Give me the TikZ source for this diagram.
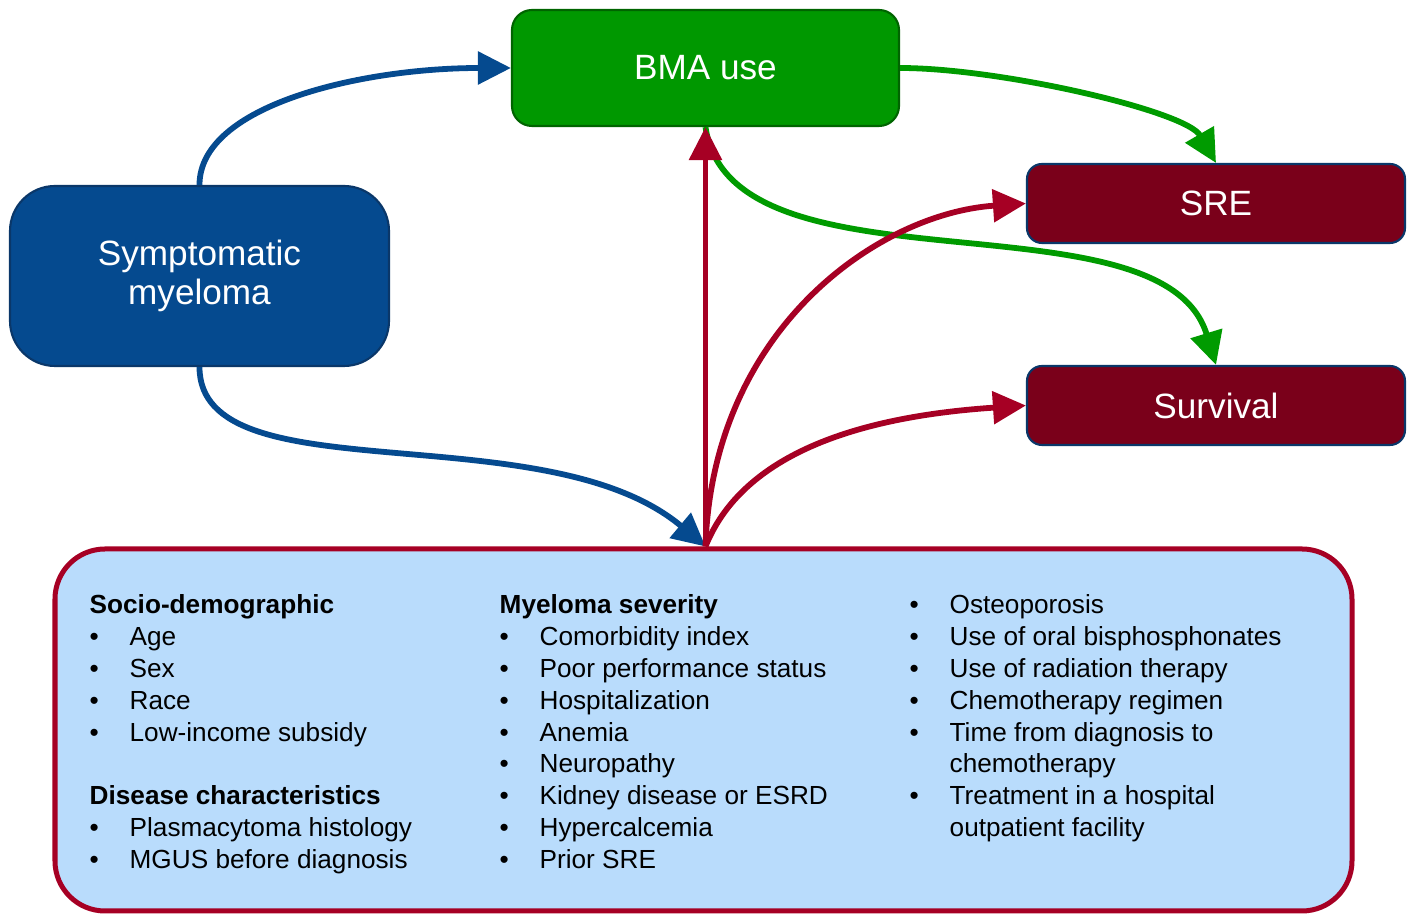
\documentclass[tikz,border=0pt]{standalone}
\usepackage{fontspec}
\setmainfont{Liberation Sans}
\usetikzlibrary{arrows.meta}

\definecolor{symblue}{RGB}{5,74,143}
\definecolor{symedge}{RGB}{10,55,105}
\definecolor{bmagreen}{RGB}{0,152,0}
\definecolor{bmaedge}{RGB}{0,100,0}
\definecolor{linkgreen}{RGB}{0,155,0}
\definecolor{outred}{RGB}{122,0,26}
\definecolor{covred}{RGB}{166,0,36}
\definecolor{covfill}{RGB}{185,220,252}

\begin{document}
\begin{tikzpicture}[
    box/.style={text=white, font=\fontsize{10}{11}\selectfont, line width=0.6pt},
    outcome/.style={box, fill=outred, draw=symedge, minimum width=3.78cm,
        minimum height=0.79cm, rounded corners=0.15cm},
    link/.style={line width=0.058cm, -{Triangle[length=0.33cm,width=0.32cm]}},
    list/.style={anchor=north west, inner sep=0pt, font=\fontsize{7.45}{9.07}\selectfont}
]
    \useasboundingbox (0,0) rectangle (14.13,9.15);
    
    % covariates
    \node[draw=covred, fill=covfill, line width=0.05cm, rounded corners=0.5cm,
        minimum width=12.97cm, minimum height=3.62cm, inner sep=0pt] (covars) at (7.035,1.85) {};
    
    \node[list] (socio) at (0.89,3.245) {\begin{tabular}{@{}p{0.4cm}@{}l@{}}
        \multicolumn{2}{@{}l@{}}{\textbf{Socio-demographic}}\\
        \textbullet & Age\\
        \textbullet & Sex\\
        \textbullet & Race\\
        \textbullet & Low-income subsidy\\
        & \\
        \multicolumn{2}{@{}l@{}}{\textbf{Disease characteristics}}\\
        \textbullet & Plasmacytoma histology\\
        \textbullet & MGUS before diagnosis
    \end{tabular}};
    
    \node[list] (severity) at (4.99,3.245) {\begin{tabular}{@{}p{0.4cm}@{}l@{}}
        \multicolumn{2}{@{}l@{}}{\textbf{Myeloma severity}}\\
        \textbullet & Comorbidity index\\
        \textbullet & Poor performance status\\
        \textbullet & Hospitalization\\
        \textbullet & Anemia\\
        \textbullet & Neuropathy\\
        \textbullet & Kidney disease or ESRD\\
        \textbullet & Hypercalcemia\\
        \textbullet & Prior SRE
    \end{tabular}};
    
    \node[list] (treatment) at (9.09,3.245) {\begin{tabular}{@{}p{0.4cm}@{}l@{}}
        \textbullet & Osteoporosis\\
        \textbullet & Use of oral bisphosphonates\\
        \textbullet & Use of radiation therapy\\
        \textbullet & Chemotherapy regimen\\
        \textbullet & Time from diagnosis to\\
        & chemotherapy\\
        \textbullet & Treatment in a hospital\\
        & outpatient facility
    \end{tabular}};
    
    % boxes above
    \node[box, fill=symblue, draw=symedge, minimum width=3.79cm, minimum height=1.80cm,
        rounded corners=0.45cm, align=center] (sym) at (1.995,6.39) {Symptomatic\\myeloma};
    \node[box, fill=bmagreen, draw=bmaedge, minimum width=3.87cm, minimum height=1.16cm,
        rounded corners=0.2cm] (bma) at (7.055,8.47) {BMA use};
    \node[outcome] (sre) at (12.16,7.115) {SRE};
    \node[outcome] (surv) at (12.16,5.095) {Survival};
    
    \coordinate (hub) at (bma.south |- covars.north);
    
    % arrows
    \draw[link, symblue] (sym.north) .. controls +(0,0.8) and +(-1.49,0) .. (bma.west);
    \draw[link, symblue] (sym.south) .. controls +(0,-1.30) and +(-1.61,1.35) .. (hub);
    
    \draw[link, linkgreen] (bma.east) .. controls +(1.0,0) and +(-0.30,0.52) .. (sre.north);
    \draw[link, linkgreen] (bma.south) .. controls +(0.25,-1.74) and +(-0.54,1.77) .. (surv.north);
    
    \draw[link, covred] (hub) -- (bma.south);
    \draw[link, covred] (hub) .. controls +(0.07,2.18) and +(-1.47,-0.10) .. (sre.west);
    \draw[link, covred] (hub) .. controls +(0.40,1.00) and +(-1.50,-0.10) .. (surv.west);
    
\end{tikzpicture}
\end{document}
